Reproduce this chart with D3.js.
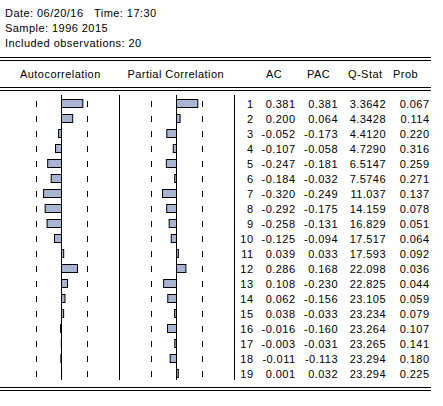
<!DOCTYPE html>
<html><head><meta charset="utf-8">
<script src="https://cdn.jsdelivr.net/npm/d3@7"></script>
<style>
html,body{margin:0;padding:0;background:#fff;}
svg text{font-family:"Liberation Sans",Arial,sans-serif;font-size:11px;letter-spacing:0.45px;fill:#000;}
</style></head>
<body><svg id="c" width="443" height="406"></svg>
<script>
const headerLines = ["Sample: 1996 2015", "Included observations: 20"];
const dateText = "Date: 06/20/16";
const timeText = "Time: 17:30";
const colHeaders = ["Autocorrelation", "Partial Correlation", "AC", "PAC", "Q-Stat", "Prob"];
const lags = [1,2,3,4,5,6,7,8,9,10,11,12,13,14,15,16,17,18,19];
const ac = [0.381,0.200,-0.052,-0.107,-0.247,-0.184,-0.320,-0.292,-0.258,-0.125,0.039,0.286,0.108,0.062,0.038,-0.016,-0.003,-0.011,0.001];
const pac = [0.381,0.064,-0.173,-0.058,-0.181,-0.032,-0.249,-0.175,-0.131,-0.094,0.033,0.168,-0.230,-0.156,-0.033,-0.160,-0.031,-0.113,0.032];
const qstat = [3.3642,4.3428,4.4120,4.7290,6.5147,7.5746,11.037,14.159,16.829,17.517,17.593,22.098,22.825,23.105,23.234,23.264,23.265,23.294,23.294];
const prob = [0.067,0.114,0.220,0.316,0.259,0.271,0.137,0.078,0.051,0.064,0.092,0.036,0.044,0.059,0.079,0.107,0.141,0.180,0.225];
const nObs = 20;

const svg = d3.select("#c");
const bound = 2/Math.sqrt(nObs);
const y = d3.scalePoint().domain(lags).range([103.5, 373.5]);
const xAC = d3.scaleLinear().domain([-1,1]).range([61.5-56, 61.5+56]);
const xPAC = d3.scaleLinear().domain([-1,1]).range([176.5-56, 176.5+56]);
const fill = "#a9b4d3";

// header text
svg.append("text").attr("x",5).attr("y",17).text(dateText);
svg.append("text").attr("x",94).attr("y",17).text(timeText);
headerLines.forEach((t,i)=>svg.append("text").attr("x",5).attr("y",32+15*i).text(t));

// horizontal double rules
[57.5,60.5,87.5,90.5,387.5,390.5].forEach(yy=>{
  svg.append("line").attr("x1",0).attr("x2",431).attr("y1",yy).attr("y2",yy)
    .attr("stroke","#000").attr("stroke-width",1);
});

// column headers
const hx = [20,127.5,266,307,348,393];
colHeaders.forEach((t,i)=>svg.append("text").attr("x",hx[i]).attr("y",78).text(t));

// vertical lines
[xAC(0), 119.5, xPAC(0), 234.5].forEach(xx=>{
  svg.append("line").attr("x1",xx).attr("x2",xx).attr("y1",95).attr("y2",380)
    .attr("stroke","#000").attr("stroke-width",1);
});

// dashed bounds
[[xAC,-bound],[xAC,bound],[xPAC,-bound],[xPAC,bound]].forEach(([sc,b])=>{
  const xx = Math.round(sc(b))+0.5;
  svg.append("g").selectAll("line").data(lags).join("line")
    .attr("x1",xx).attr("x2",xx)
    .attr("y1",d=>y(d)-2.5).attr("y2",d=>y(d)+3.5)
    .attr("stroke","#000").attr("stroke-width",1);
});

function bars(vals, sc){
  svg.append("g").selectAll("rect").data(lags).join("rect")
    .attr("x",(d,i)=>Math.min(sc(0),sc(vals[i])))
    .attr("width",(d,i)=>Math.abs(sc(vals[i])-sc(0)))
    .attr("y",d=>y(d)-4)
    .attr("height",8)
    .attr("fill",fill).attr("stroke","#000").attr("stroke-width",1);
}
bars(ac,xAC);
bars(pac,xPAC);

// table
const f3 = d3.format(".3f");
const fq = d3.format(".5r");
const cols = [
  {x:253.5, vals:lags, f:d=>String(d)},
  {x:295.5, vals:ac, f:f3},
  {x:338, vals:pac, f:f3},
  {x:386, vals:qstat, f:fq},
  {x:429.5, vals:prob, f:f3}
];
cols.forEach(c=>{
  svg.append("g").selectAll("text").data(lags).join("text")
    .attr("x",c.x).attr("y",d=>y(d)+4)
    .attr("text-anchor","end")
    .text((d,i)=>c.f(c.vals[i]).replace("−","-"));
});
</script></body></html>
